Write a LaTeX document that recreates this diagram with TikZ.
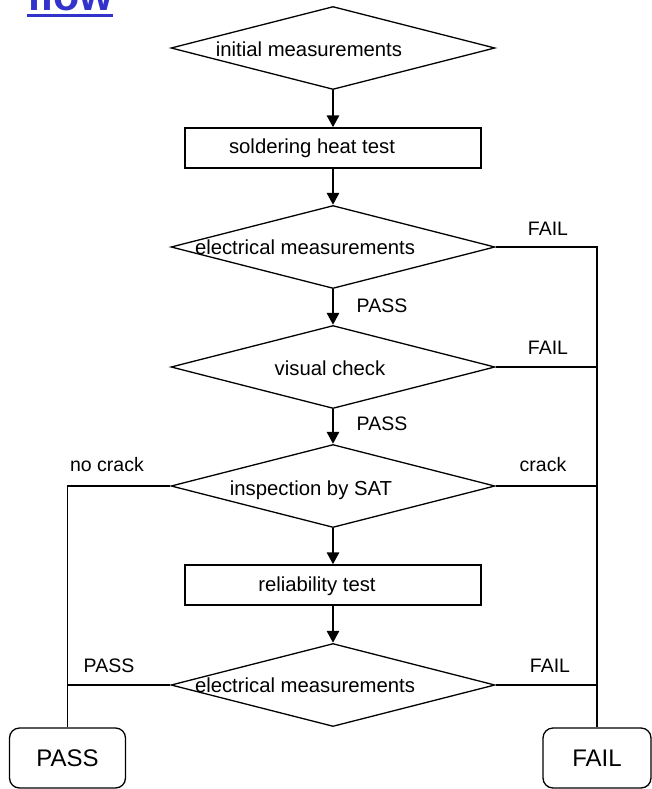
\documentclass[tikz,border=0pt]{standalone}
\usepackage{fontspec}
\setmainfont{Liberation Sans}
\usetikzlibrary{shapes.geometric,arrows.meta}
\definecolor{titleblue}{RGB}{51,51,204}
\begin{document}
\begin{tikzpicture}[x=1pt,y=-1pt,
  decision/.style={diamond, draw, line width=1.3pt, minimum width=324pt,
    minimum height=83pt, inner sep=0pt, aspect=1},
  process/.style={rectangle, draw, line width=1.3pt, minimum width=296pt,
    minimum height=40pt, inner sep=0pt},
  terminal/.style={rectangle, rounded corners=10pt, draw, line width=1.3pt,
    minimum height=60pt, inner sep=0pt, font=\fontsize{24}{28}\selectfont},
  flowarrow/.style={line width=2.8pt, -{Triangle[width=12pt,length=12pt]}},
  branch/.style={line width=1.3pt},
  txt/.style={font=\fontsize{19.5}{23}\selectfont, inner sep=0pt, anchor=base},
  steptxt/.style={txt, font=\fontsize{20.3}{24}\selectfont},
]
\useasboundingbox (0,0) rectangle (652,789);

% title
\node[anchor=base west, inner sep=0pt, text=titleblue,
      font=\bfseries\fontsize{43}{50}\selectfont] (title) at (27,11) {flow};
\draw[titleblue, line width=2.5pt]
  ([yshift=-4.5pt]title.base west) -- ([yshift=-4.5pt]title.base east);

% main column
\node[decision] (d1) at (333,48) {};
\node[process]  (b1) at (333,148) {};
\node[decision] (d2) at (333,247) {};
\node[decision] (d3) at (333,367) {};
\node[decision] (d4) at (333,486) {};
\node[process]  (b2) at (333,585) {};
\node[decision] (d5) at (333,685) {};

% end states
\node[terminal, minimum width=116pt] (pass) at (67.5,758) {PASS};
\node[terminal, minimum width=108pt] (fail) at (597,758) {FAIL};

% step texts
\node[steptxt] (t1) at (309,57)  {initial measurements};
\node[steptxt] (t2) at (312,153) {soldering heat test};
\node[steptxt] (t3) at (305,254) {electrical measurements};
\node[steptxt] (t4) at (330,375) {visual check};
\node[steptxt] (t5) at (311,495) {inspection by SAT};
\node[steptxt] (t6) at (317,591) {reliability test};
\node[steptxt] (t7) at (305,692) {electrical measurements};

% main flow
\draw[flowarrow] (d1.south) -- (b1.north);
\draw[flowarrow] (b1.south) -- (d2.north);
\draw[flowarrow] (d2.south) -- (d3.north);
\draw[flowarrow] (d3.south) -- (d4.north);
\draw[flowarrow] (d4.south) -- (b2.north);
\draw[flowarrow] (b2.south) -- (d5.north);

% failure branch
\draw[branch] (d2.east) -| (fail.north);
\draw[branch] (d3.east) -- (d3.east -| fail.north);
\draw[branch] (d4.east) -- (d4.east -| fail.north);
\draw[branch] (d5.east) -- (d5.east -| fail.north);

% pass branch
\draw[branch] (d4.west) -| (pass.north);
\draw[branch] (d5.west) -- (d5.west -| pass.north);

% branch labels
\node[txt] (l1) at (548,235) {FAIL};
\node[txt] (l2) at (382,312) {PASS};
\node[txt] (l3) at (548,354) {FAIL};
\node[txt] (l4) at (382,430) {PASS};
\node[txt] (l5) at (107,471) {no crack};
\node[txt] (l6) at (543,471) {crack};
\node[txt] (l7) at (109,672) {PASS};
\node[txt] (l8) at (550,672) {FAIL};
\end{tikzpicture}
\end{document}
